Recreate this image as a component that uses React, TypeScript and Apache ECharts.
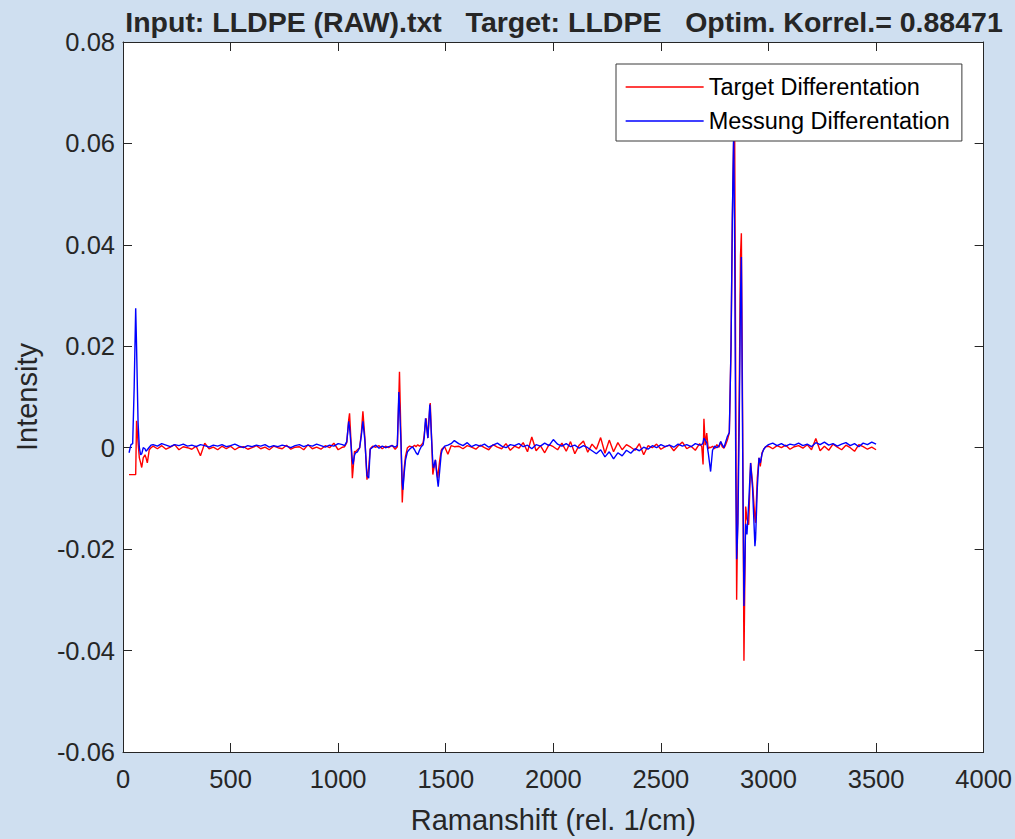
import React, { useEffect, useRef } from "react";
import * as echarts from "echarts";

// ---- Data (Ramanshift in rel. 1/cm, intensities) ----
const shiftStart = [28, 37, 45, 52, 59, 63, 70, 76, 82, 87, 94, 102, 107, 113, 122, 130];
const targetStart = [-0.0053, -0.0053, -0.0053, -0.0053, -0.0053, 0.0053, 0.001, -0.002, -0.003, -0.0039, -0.002, -0.0014, -0.002, -0.003, -0.0004, 0.0];
const messungStart = [-0.001, 0.0006, 0.0008, 0.012, 0.0275, 0.02, 0.005, 0.0, -0.0014, -0.0012, 0.0, -0.0002, -0.0007, -0.0004, 0.0001, 0.0005];

const shiftA = [140, 160, 180, 200, 220, 240, 260, 280, 300, 320, 340, 360, 380, 400, 420, 440, 460, 480, 500, 520, 540, 560, 580, 600, 620, 640, 660, 680, 700, 720, 740, 760, 780, 800, 820, 840, 860, 880, 900, 920, 940, 960, 980, 1000, 1020];
const targetA = [0.0003, -0.0002, 0.0004, -0.0003, 0.0001, 0.0006, -0.0004, 0.0002, 0.0, -0.0003, 0.0003, -0.0016, 0.0009, -0.0002, 0.0001, -0.0004, 0.0003, -0.0002, 0.0003, -0.0004, 0.0001, 0.0002, -0.0003, 0.0, 0.0004, -0.0002, 0.0001, -0.0004, 0.0003, 0.0, -0.0002, 0.0005, -0.0003, 0.0001, 0.0002, -0.0004, 0.0006, -0.0002, 0.0001, -0.0003, 0.0004, 0.0, 0.0009, -0.0004, 0.0001];
const messungA = [0.0006, 0.0003, 0.0008, 0.0005, 0.0002, 0.0006, 0.0004, 0.0007, 0.0003, 0.0005, 0.0002, 0.0006, 0.0004, 0.0001, 0.0005, 0.0003, 0.0006, 0.0002, 0.0004, 0.0007, 0.0003, 0.0, 0.0004, 0.0002, 0.0005, 0.0003, 0.0006, 0.0001, 0.0004, 0.0002, 0.0005, 0.0003, 0.0, 0.0004, 0.0006, 0.0002, 0.0005, 0.0003, 0.0007, 0.0004, 0.0001, 0.0005, 0.0003, 0.0008, 0.0006];

const shiftB = [1030, 1040, 1049, 1053, 1060, 1066, 1069, 1076, 1081, 1090, 1100, 1108, 1115, 1124, 1134, 1142, 1149, 1160, 1175, 1190, 1205, 1220, 1235, 1250, 1265, 1275, 1282, 1285, 1292, 1298, 1301, 1307, 1313, 1322, 1332, 1345, 1355, 1362, 1370, 1378, 1386, 1395, 1400, 1406, 1409, 1417, 1426, 1428, 1435, 1440, 1443, 1452, 1459, 1463, 1465, 1472, 1479, 1483, 1495, 1510, 1525, 1540];
const targetB = [0.0002, 0.001, 0.0055, 0.0068, 0.001, -0.006, -0.0045, -0.0007, -0.0008, -0.0004, 0.0, 0.003, 0.0072, 0.002, -0.0063, -0.004, -0.0002, 0.0003, 0.0001, 0.0004, -0.0002, 0.0003, 0.0, 0.0005, -0.0003, 0.0002, 0.01, 0.015, 0.002, -0.0108, -0.008, -0.004, -0.0017, 0.0, 0.0003, 0.0001, 0.0005, 0.0002, 0.0006, 0.0003, 0.0005, 0.001, 0.0025, 0.005, 0.0058, 0.0019, 0.008, 0.0088, 0.001, -0.0053, -0.0045, -0.0024, -0.005, -0.006, -0.005, -0.0025, -0.0005, -0.0002, 0.0002, -0.0013, 0.0004, 0.0002];
const messungB = [0.0004, 0.0012, 0.0052, 0.004, 0.0005, -0.0025, -0.0033, -0.0015, -0.001, -0.0008, 0.0, 0.0025, 0.0052, 0.0015, -0.0055, -0.006, -0.0003, 0.0001, 0.0005, -0.0001, 0.0003, 0.0, 0.0002, 0.0004, 0.0001, 0.0005, 0.011, 0.0085, 0.001, -0.007, -0.0083, -0.005, -0.0024, -0.0008, -0.0003, 0.0002, -0.0004, -0.001, -0.0014, -0.0005, 0.0002, 0.0006, 0.002, 0.0058, 0.0048, 0.0019, 0.0085, 0.0075, 0.001, -0.003, -0.004, -0.0024, -0.0055, -0.007, -0.0077, -0.0045, -0.0012, -0.0005, 0.0003, 0.0005, 0.0008, 0.0014];

const shiftC = [1560, 1580, 1600, 1620, 1640, 1660, 1680, 1700, 1720, 1740, 1760, 1780, 1800, 1820, 1840, 1860, 1880, 1900, 1920, 1940, 1960, 1980, 2000, 2020, 2040, 2060, 2080, 2100, 2120, 2140, 2160, 2180, 2200, 2220, 2240, 2260, 2280, 2300, 2320, 2340, 2360, 2380, 2400, 2420, 2440, 2460, 2480, 2500, 2520, 2540, 2560, 2580, 2600, 2620, 2640, 2660, 2680];
const targetC = [0.0003, -0.0002, 0.0004, 0.0001, -0.0003, 0.0005, 0.0, -0.0004, 0.0006, 0.0001, -0.0002, 0.0008, -0.0005, 0.0003, -0.0001, 0.001, -0.0008, 0.0021, -0.0006, 0.0004, -0.001, 0.0006, 0.0002, -0.0004, 0.0009, -0.0007, 0.0012, -0.0012, 0.0005, 0.0013, -0.0009, 0.0007, -0.0003, 0.002, -0.0011, 0.0015, -0.0008, 0.001, -0.0004, 0.0006, 0.0001, -0.0005, 0.0008, -0.0014, 0.0004, 0.0, 0.0007, -0.0003, 0.0002, 0.0005, -0.0006, 0.0004, 0.0011, -0.0002, 0.0003, -0.0005, 0.0008];
const messungC = [0.0008, 0.0004, 0.001, 0.0002, 0.0006, 0.0003, 0.0007, 0.0001, 0.0005, 0.0009, 0.0003, 0.0, 0.0006, 0.0004, 0.0008, 0.0002, 0.0005, -0.0002, 0.0006, 0.0003, 0.0009, 0.0004, 0.0016, 0.0007, 0.0003, 0.0008, 0.0002, 0.0005, -0.0001, 0.0004, 0.0, -0.0006, -0.0012, -0.0004, -0.0018, -0.0008, -0.0022, -0.001, -0.0016, -0.0005, -0.0011, -0.0002, -0.0006, 0.0001, -0.0003, 0.0004, 0.0, 0.0006, 0.0002, 0.0005, 0.0001, 0.0007, 0.0003, 0.0006, 0.0002, 0.0008, 0.0005];

const shiftD = [2690, 2696, 2700, 2706, 2713, 2720, 2726, 2731, 2740, 2750, 2760, 2770, 2778, 2785, 2793, 2800, 2809, 2818, 2826, 2832, 2838, 2843, 2848, 2852, 2858, 2864, 2870, 2874, 2880, 2886, 2894, 2900, 2908, 2917, 2926, 2937, 2940, 2948, 2956, 2962, 2970, 2978, 2987];
const targetD = [0.0002, -0.0033, 0.0057, 0.0005, 0.0029, -0.0002, 0.0001, 0.0, 0.0003, -0.0002, 0.0006, 0.0001, 0.0012, 0.0002, -0.0001, 0.0005, 0.0015, 0.003, 0.02, 0.045, 0.06, 0.061, 0.01, -0.03, -0.01, 0.01, 0.038, 0.0423, 0.005, -0.042, -0.0116, -0.014, -0.0152, -0.003, -0.007, -0.014, -0.0148, -0.006, -0.002, -0.0037, -0.001, -0.0003, 0.0002];
const messungD = [0.0006, 0.001, 0.0019, 0.0015, 0.001, -0.001, -0.003, -0.0047, -0.0005, 0.0003, 0.0, 0.0004, 0.0012, 0.0006, 0.0, 0.001, 0.0022, 0.003, 0.02, 0.045, 0.062, 0.04, -0.005, -0.022, -0.015, 0.005, 0.03, 0.0376, 0.0, -0.0312, -0.015, -0.0171, -0.011, -0.003, -0.008, -0.0194, -0.018, -0.008, -0.002, -0.003, -0.0012, -0.0003, 0.0002];

const shiftE = [3000, 3020, 3040, 3060, 3080, 3100, 3120, 3140, 3160, 3180, 3200, 3220, 3240, 3260, 3280, 3300, 3320, 3340, 3360, 3380, 3400, 3420, 3440, 3460, 3480, 3500];
const targetE = [0.0003, -0.0002, 0.0004, 0.0, 0.0005, -0.0003, 0.0002, 0.0004, -0.0001, 0.0006, -0.0004, 0.0018, -0.0006, 0.0003, -0.0005, 0.0007, 0.0001, -0.0004, 0.0005, 0.0, -0.0007, 0.0006, 0.0002, -0.0003, 0.0001, -0.0004];
const messungE = [0.0006, 0.0009, 0.0004, 0.0008, 0.0003, 0.0007, 0.0005, 0.0009, 0.0004, 0.0007, 0.0002, 0.001, 0.0006, 0.0011, 0.0005, 0.0008, 0.0003, 0.0007, 0.001, 0.0004, 0.0008, 0.0002, 0.0009, 0.0006, 0.0011, 0.0007];

const xTicks = { min: 0, max: 4000, interval: 500 };
const yTicks = { min: -0.06, max: 0.08, interval: 0.02 };

const titleText = "Input: LLDPE (RAW).txt   Target: LLDPE   Optim. Korrel.= 0.88471";
const seriesNames = ["Target Differentation", "Messung Differentation"];

const ramanShift = [...shiftStart, ...shiftA, ...shiftB, ...shiftC, ...shiftD, ...shiftE];
const targetDiff = [...targetStart, ...targetA, ...targetB, ...targetC, ...targetD, ...targetE];
const messungDiff = [...messungStart, ...messungA, ...messungB, ...messungC, ...messungD, ...messungE];

const FONT = "'Liberation Sans', Arial, sans-serif";
const TXT = "#262626";

export default function App() {
  const ref = useRef<HTMLDivElement>(null);
  useEffect(() => {
    document.body.style.margin = "0";
    const chart = echarts.init(ref.current!, undefined, { renderer: "svg" });
    const axisCommon = {
      axisLine: { show: true, onZero: false, lineStyle: { color: TXT, width: 1 } },
      axisTick: { show: true, inside: true, length: 9, lineStyle: { color: TXT, width: 1 } },
      splitLine: { show: false },
    };
    chart.setOption({
      animation: false,
      backgroundColor: "#cfdff0",
      title: {
        text: titleText,
        left: 559,
        textAlign: "center",
        top: 2,
        textStyle: {
          fontFamily: FONT,
          fontWeight: "bold",
          fontSize: 28.5,
          color: TXT,
        },
      },
      grid: { left: 123, right: 30, top: 42, bottom: 86, show: true, backgroundColor: "#ffffff", borderWidth: 0 },
      legend: {
        data: seriesNames,
        orient: "vertical",
        left: 616,
        top: 64,
        z: 10,
        backgroundColor: "#ffffff",
        borderColor: "#3a3a3a",
        borderWidth: 1,
        borderRadius: 0,
        padding: [11, 12, 8, 9],
        itemWidth: 78,
        itemHeight: 24,
        itemGap: 10,
        itemStyle: { opacity: 0 },
        lineStyle: { width: 1.3 },
        textStyle: { fontFamily: FONT, fontSize: 23.5, color: "#000000" },
      },
      xAxis: [
        {
          type: "value",
          position: "bottom",
          ...xTicks,
          ...axisCommon,
          name: "Ramanshift (rel. 1/cm)",
          nameLocation: "middle",
          nameGap: 53,
          nameTextStyle: { fontFamily: FONT, fontSize: 29, color: TXT },
          axisLabel: { fontFamily: FONT, fontSize: 25.5, color: TXT, margin: 14, formatter: (v: number) => String(v) },
        },
        {
          type: "value",
          position: "top",
          ...xTicks,
          ...axisCommon,
          axisLabel: { show: false },
        },
      ],
      yAxis: [
        {
          type: "value",
          position: "left",
          ...yTicks,
          ...axisCommon,
          name: "Intensity",
          nameLocation: "middle",
          nameGap: 82,
          nameTextStyle: { fontFamily: FONT, fontSize: 29, color: TXT },
          axisLabel: {
            fontFamily: FONT,
            fontSize: 25.5,
            color: TXT,
            margin: 8,
            formatter: (v: number) => (Math.abs(v) < 1e-9 ? "0" : v.toFixed(2)),
          },
        },
        {
          type: "value",
          position: "right",
          ...yTicks,
          ...axisCommon,
          axisLabel: { show: false },
        },
      ],
      series: [
        {
          name: seriesNames[0],
          type: "line",
          xAxisIndex: 0,
          yAxisIndex: 0,
          symbol: "none",
          lineStyle: { color: "#ff0000", width: 1.4 },
          itemStyle: { color: "#ff0000" },
          data: ramanShift.map((x, i) => [x, targetDiff[i]]),
        },
        {
          name: seriesNames[1],
          type: "line",
          xAxisIndex: 0,
          yAxisIndex: 0,
          symbol: "none",
          lineStyle: { color: "#0000ff", width: 1.4 },
          itemStyle: { color: "#0000ff" },
          data: ramanShift.map((x, i) => [x, messungDiff[i]]),
        },
      ],
    });
    return () => chart.dispose();
  }, []);
  return <div ref={ref} style={{ width: 1015, height: 839 }} />;
}
